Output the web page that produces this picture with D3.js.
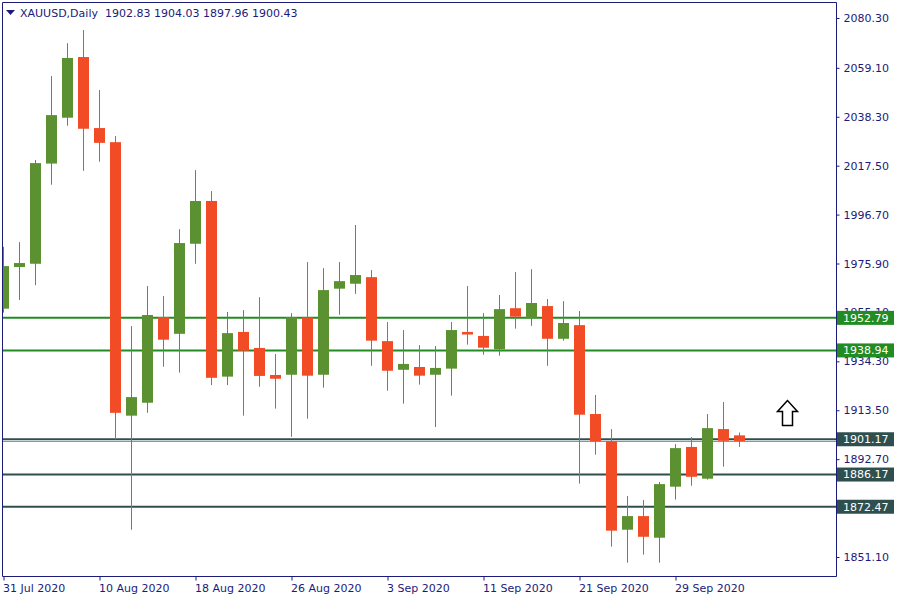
<!DOCTYPE html>
<html>
<head>
<meta charset="utf-8">
<script src="https://cdn.jsdelivr.net/npm/d3@7/dist/d3.min.js"></script>
<style>
  html, body { margin: 0; padding: 0; background: #ffffff; }
  svg { display: block; font-family: "DejaVu Sans", Verdana, sans-serif; }
</style>
</head>
<body>
<svg id="chart" width="900" height="600"></svg>
<script>
// ---- data ----
const symbol = "XAUUSD,Daily";
const dates = [
  "31 Jul 2020",
  "3 Aug 2020","4 Aug 2020","5 Aug 2020","6 Aug 2020","7 Aug 2020",
  "10 Aug 2020","11 Aug 2020","12 Aug 2020","13 Aug 2020","14 Aug 2020",
  "17 Aug 2020","18 Aug 2020","19 Aug 2020","20 Aug 2020","21 Aug 2020",
  "24 Aug 2020","25 Aug 2020","26 Aug 2020","27 Aug 2020","28 Aug 2020",
  "31 Aug 2020","1 Sep 2020","2 Sep 2020","3 Sep 2020","4 Sep 2020",
  "7 Sep 2020","8 Sep 2020","9 Sep 2020","10 Sep 2020","11 Sep 2020",
  "14 Sep 2020","15 Sep 2020","16 Sep 2020","17 Sep 2020","18 Sep 2020",
  "21 Sep 2020","22 Sep 2020","23 Sep 2020","24 Sep 2020","25 Sep 2020",
  "28 Sep 2020","29 Sep 2020","30 Sep 2020","1 Oct 2020","2 Oct 2020",
  "5 Oct 2020"
];
const opens  = [1956.7,1974.4,1975.8,2018.4,2037.9,2063.7,2033.5,2027.5,1911.2,1916.7,
                1953.1,1946.0,1984.3,2002.5,1927.8,1946.8,1940.0,1928.5,1928.6,1953.0,
                1928.6,1965.2,1967.3,1970.1,1942.9,1930.7,1931.9,1928.6,1931.2,1946.8,
                1945.1,1939.4,1956.9,1952.6,1957.8,1943.9,1949.7,1911.9,1900.3,1862.7,
                1868.5,1859.3,1881.0,1897.9,1884.4,1905.5,1902.83];
const highs  = [1983.0,1985.0,2019.9,2055.6,2069.6,2075.2,2049.7,2030.1,1949.3,1966.3,
                1962.1,1990.5,2015.6,2006.7,1955.3,1956.1,1961.6,1937.4,1954.8,1976.5,
                1973.9,1976.5,1992.3,1973.1,1951.0,1947.6,1941.2,1940.8,1951.0,1966.3,
                1954.8,1962.5,1972.3,1973.5,1960.8,1959.9,1955.7,1920.0,1905.5,1877.0,
                1875.3,1883.0,1899.1,1902.1,1911.9,1917.0,1904.03];
const lows   = [1955.0,1960.4,1966.7,2009.4,2034.5,2015.3,2019.2,1901.1,1862.7,1912.4,
                1932.0,1929.5,1975.8,1924.2,1924.2,1911.2,1923.5,1914.2,1902.2,1909.9,
                1923.1,1954.1,1963.0,1932.4,1921.8,1916.3,1924.4,1906.4,1919.7,1941.4,
                1937.1,1936.7,1948.2,1949.4,1932.4,1943.1,1882.3,1894.6,1855.5,1848.7,
                1852.1,1848.7,1875.5,1881.4,1884.0,1889.5,1897.96];
const closes = [1974.8,1976.1,2018.6,2039.0,2063.3,2033.2,2027.2,1912.4,1919.1,1954.0,
                1943.5,1984.6,2002.5,1927.3,1946.3,1938.8,1928.1,1926.9,1953.1,1928.2,
                1964.6,1968.4,1971.0,1943.1,1930.3,1933.2,1928.2,1931.5,1947.6,1945.7,
                1940.1,1956.5,1953.3,1959.1,1943.9,1950.6,1911.6,1900.3,1862.3,1868.5,
                1859.7,1882.1,1897.4,1885.2,1905.9,1900.5,1900.43];
const priceTicks = [2080.30,2059.10,2038.30,2017.50,1996.70,1975.90,1955.10,1934.30,1913.50,1892.70,1871.90,1851.10];
const dateTickLabels = ["31 Jul 2020","10 Aug 2020","18 Aug 2020","26 Aug 2020","3 Sep 2020","11 Sep 2020","21 Sep 2020","29 Sep 2020"];
const levels = [1952.79, 1938.94, 1901.17, 1886.17, 1872.47];

// ---- styles ----
const UP = "#5b9131", DOWN = "#f24c26", FG = "#1b1b7a", FRAME = "#1b1b7a";
const levelColors = ["#228b22","#228b22","#2f4f4f","#2f4f4f","#2f4f4f"];
const BID = "#8a9599";

const svg = d3.select("#chart");
const L = 2.5, R = 836.5, T = 2.5, B = 576.5;

const candles = dates.map((d, i) => ({ i, d, o: opens[i], h: highs[i], l: lows[i], c: closes[i] }));

const x = d3.scaleLinear().domain([0, dates.length - 1]).range([3.5, 3.5 + 16 * (dates.length - 1)]);
const y = d3.scaleLinear().domain([1851.1, 2080.3]).range([557, 18]);

svg.append("defs").append("clipPath").attr("id", "plot")
  .append("rect").attr("x", 3).attr("y", 3).attr("width", R - 3).attr("height", B - 3);

const plot = svg.append("g").attr("clip-path", "url(#plot)");

// level lines
plot.selectAll("line.level").data(levels).enter().append("line")
  .attr("class", "level")
  .attr("x1", 3).attr("x2", R)
  .attr("y1", d => y(d)).attr("y2", d => y(d))
  .attr("stroke", (d, i) => levelColors[i]).attr("stroke-width", 2);

// bid line
const lastClose = closes[closes.length - 1];
plot.append("line")
  .attr("x1", 3).attr("x2", R)
  .attr("y1", Math.round(y(lastClose)) + 0.5).attr("y2", Math.round(y(lastClose)) + 0.5)
  .attr("stroke", BID).attr("stroke-width", 1);

// candles
const cg = plot.selectAll("g.candle").data(candles).enter().append("g").attr("class", "candle");
cg.append("line")
  .attr("x1", d => x(d.i)).attr("x2", d => x(d.i))
  .attr("y1", d => y(d.h)).attr("y2", d => y(d.l))
  .attr("stroke", d => d.c >= d.o ? UP : DOWN).attr("stroke-width", 1);
cg.append("rect")
  .attr("x", d => x(d.i) - 5.5).attr("width", 11)
  .attr("y", d => y(Math.max(d.o, d.c)))
  .attr("height", d => Math.max(1, Math.abs(y(d.o) - y(d.c))))
  .attr("fill", d => d.c >= d.o ? UP : DOWN);

// frame
svg.append("path")
  .attr("d", `M${L},${T}H${R}V${B}H${L}Z`)
  .attr("fill", "none").attr("stroke", FRAME).attr("stroke-width", 1);

// y axis (right)
const yAxis = d3.axisRight(y).tickValues(priceTicks).tickSize(3).tickPadding(4)
  .tickFormat(d => d.toFixed(2));
const ya = svg.append("g").attr("transform", `translate(${R},0)`).call(yAxis);
ya.select(".domain").remove();
ya.selectAll(".tick line").attr("stroke", FRAME);
ya.selectAll(".tick text").attr("fill", FG).style("font-size", "11px")
  .style("font-family", "'DejaVu Sans', Verdana, sans-serif");

// x axis (bottom)
const tickIdx = dateTickLabels.map(s => dates.indexOf(s));
const xAxis = d3.axisBottom(x).tickValues(tickIdx).tickSize(4).tickPadding(4)
  .tickFormat(i => dates[i]);
const xa = svg.append("g").attr("transform", `translate(0,${B})`).call(xAxis);
xa.select(".domain").remove();
xa.selectAll(".tick line").attr("stroke", FRAME);
xa.selectAll(".tick text").attr("fill", FG).attr("text-anchor", "start").attr("x", -1)
  .style("font-size", "11px").style("font-family", "'DejaVu Sans', Verdana, sans-serif");

// level price boxes
const boxes = svg.selectAll("g.lvlbox").data(levels).enter().append("g").attr("class", "lvlbox");
boxes.append("rect")
  .attr("x", 837).attr("width", 57)
  .attr("y", d => y(d) - 7).attr("height", 14)
  .attr("fill", (d, i) => levelColors[i]);
boxes.append("text")
  .attr("x", 843).attr("y", d => y(d)).attr("dy", "0.36em")
  .attr("fill", "#ffffff").style("font-size", "11px")
  .text(d => d.toFixed(2));

// header
svg.append("path").attr("d", "M6,10H15L10.5,15Z").attr("fill", FG);
svg.append("text").attr("x", 20).attr("y", 16.5).attr("fill", FG).style("font-size", "11px")
  .attr("xml:space", "preserve")
  .text(`${symbol}  ${opens[opens.length-1].toFixed(2)} ${highs[highs.length-1].toFixed(2)} ${lows[lows.length-1].toFixed(2)} ${closes[closes.length-1].toFixed(2)}`);

// up arrow marker
svg.append("path")
  .attr("d", "M787.5,400.5 L777.5,411.5 L782.5,411.5 L782.5,425.5 L792.5,425.5 L792.5,411.5 L797.5,411.5 Z")
  .attr("fill", "#ffffff").attr("stroke", "#000000").attr("stroke-width", 1.5)
  .attr("stroke-linejoin", "miter");
</script>
</body>
</html>
